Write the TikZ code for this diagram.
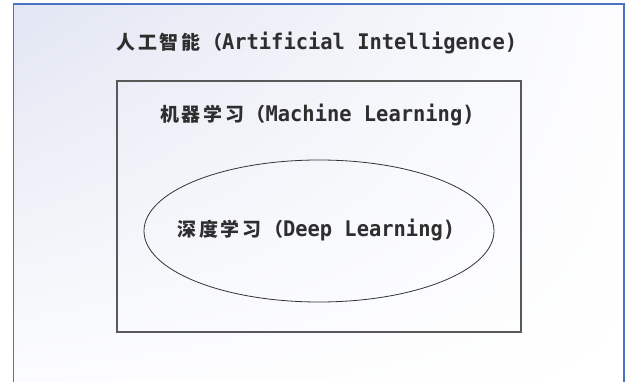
\documentclass[tikz,border=0pt]{standalone}
\usepackage{fontspec}
\newfontfamily\cjk{Noto Sans CJK SC}[Scale=0.88, LetterSpace=14]
\newfontfamily\latmono{DejaVu Sans Mono}[FakeStretch=0.95]
\usetikzlibrary{positioning,
                shadings,
                shapes.geometric}

\definecolor{aiblue}{HTML}{4A72C0}
\definecolor{bgtint}{HTML}{E2E6F3}
\definecolor{boxgray}{HTML}{595959}
\definecolor{txtgray}{HTML}{2E2E2E}

\newcommand\mixlabel[2]{{\cjk\bfseries #1（}{\latmono\bfseries #2)}}

\tikzset{
  areatitle/.style={text=txtgray, inner sep=0pt,
                    font=\fontsize{21.5}{25}\selectfont},
  mlbox/.style={draw=boxgray, line width=1.4pt, minimum width=404pt,
                minimum height=251pt, inner sep=0pt},
  dlellipse/.style={ellipse, draw=black!80, line width=0.8pt,
                    minimum width=350pt, minimum height=142pt, inner sep=0pt}
}

\begin{document}
\begin{tikzpicture}[x=1pt,y=1pt]
        \useasboundingbox (0,0) rectangle (630,381);
        \clip (0,0) rectangle (630,381);
        % AI area, cut at the bottom
        \shade[upper left=bgtint, upper right=white!92!bgtint,
               lower left=white!94!bgtint, lower right=white]
            (13.5,377) rectangle (624,-20);
        \draw[aiblue, line width=1.6pt] (13.5,377) rectangle (624,-20);
        \node[areatitle] (aititle) at (317,338) {\mixlabel{人工智能}{Artificial Intelligence}};
        % ML box and DL ellipse
        \node[mlbox] (ml) at (319,174.5) {};
        \node[areatitle] (mltitle) at (317.5,266) {\mixlabel{机器学习}{Machine Learning}};
        \node[dlellipse] (dl) at (319,150) {};
        \node[areatitle] (dltitle) at (316.5,151) {\mixlabel{深度学习}{Deep Learning}};
\end{tikzpicture}
\end{document}
